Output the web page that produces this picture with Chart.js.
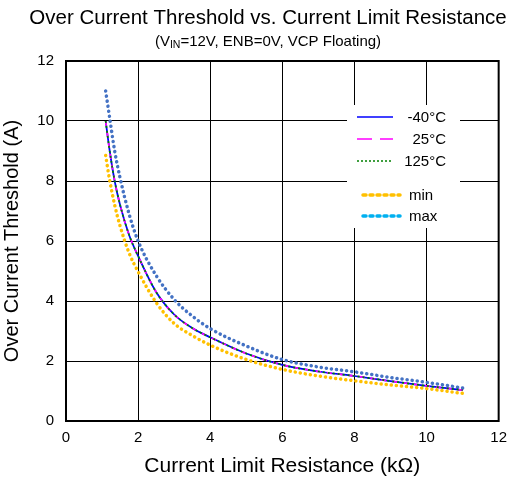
<!DOCTYPE html>
<html>
<head>
<meta charset="utf-8">
<script src="https://cdn.jsdelivr.net/npm/chart.js@4/dist/chart.umd.min.js"></script>
<style>
  html, body { margin: 0; padding: 0; background: #fff; }
  #wrap { width: 515px; height: 479px; }
</style>
</head>
<body>
<div id="wrap"><canvas id="c" width="515" height="479"></canvas></div>
<script>
// Current limit resistance (kΩ)
const resistance = [1.1, 1.2, 1.35, 1.5, 1.75, 2, 2.5, 3, 3.5, 4, 5, 6, 7, 8, 9, 10, 11];
// Over current threshold (A) per temperature
const tempM40 = [10.0, 9.1, 8.0, 7.2, 6.2, 5.5, 4.3, 3.55, 3.1, 2.79, 2.25, 1.87, 1.65, 1.5, 1.33, 1.17, 1.03];
const temp25  = [10.0, 9.1, 8.0, 7.2, 6.2, 5.5, 4.3, 3.55, 3.1, 2.79, 2.25, 1.87, 1.65, 1.5, 1.33, 1.17, 1.03];
const temp125 = [10.0, 9.1, 8.0, 7.2, 6.2, 5.5, 4.3, 3.55, 3.1, 2.79, 2.25, 1.87, 1.65, 1.5, 1.33, 1.17, 1.03];
// Limits
const minVals = [8.85, 8.1, 7.2, 6.5, 5.6, 4.98, 3.95, 3.25, 2.85, 2.53, 2.05, 1.72, 1.5, 1.34, 1.2, 1.08, 0.92];
const maxVals = [11.0, 10.2, 9.0, 8.1, 6.9, 6.0, 4.85, 4.05, 3.5, 3.08, 2.5, 2.05, 1.8, 1.64, 1.45, 1.29, 1.1];

const xTicks = [0, 2, 4, 6, 8, 10, 12];
const yTicks = [0, 2, 4, 6, 8, 10, 12];

const FONT = 'Liberation Sans, Arial, sans-serif';

const pts = ys => resistance.map((r, i) => ({ x: r, y: ys[i] }));

// Entries for the in-plot key
const legendItems = [
  { text: '-40°C', color: '#0000FF', width: 1.5, dash: [], cap: 'butt', align: 'right' },
  { text: '25°C', color: '#FF00FF', width: 1.5, dash: [15, 8], cap: 'butt', align: 'right' },
  { text: '125°C', color: '#008000', width: 1.5, dash: [2, 2], cap: 'butt', align: 'right' },
  null,
  { text: 'min', color: '#FFC000', width: 3.5, dash: [3, 4], cap: 'round', align: 'left' },
  { text: 'max', color: '#00B0F0', width: 3.5, dash: [3, 4], cap: 'round', align: 'left' }
];

const decorPlugin = {
  id: 'decor',
  beforeDraw(chart) {
    const ctx = chart.ctx;
    ctx.save();
    ctx.fillStyle = '#fff';
    ctx.fillRect(0, 0, chart.width, chart.height);
    ctx.restore();
  },
  afterDatasetsDraw(chart) {
    const ctx = chart.ctx;
    const a = chart.chartArea;
    ctx.save();
    // key box
    ctx.fillStyle = '#fff';
    ctx.fillRect(347, 105, 113, 123);
    const rows = [117, 139, 161, 182, 195, 216];
    legendItems.forEach((it, i) => {
      if (!it) return;
      const y = rows[i];
      ctx.beginPath();
      ctx.strokeStyle = it.color;
      ctx.lineWidth = it.width;
      ctx.lineCap = it.cap;
      ctx.setLineDash(it.dash);
      if (it.align === 'right') {
        ctx.moveTo(357, y); ctx.lineTo(393, y);
      } else {
        ctx.moveTo(363, y); ctx.lineTo(400, y);
      }
      ctx.stroke();
      ctx.setLineDash([]);
      ctx.fillStyle = '#000';
      ctx.font = '15px ' + FONT;
      ctx.textBaseline = 'middle';
      if (it.align === 'right') {
        ctx.textAlign = 'right';
        ctx.fillText(it.text, 446, y + 1);
      } else {
        ctx.textAlign = 'left';
        ctx.fillText(it.text, 409, y + 1);
      }
    });
    // plot frame
    ctx.strokeStyle = '#000';
    ctx.lineWidth = 2;
    ctx.lineCap = 'butt';
    ctx.strokeRect(a.left, a.top, a.right - a.left, a.bottom - a.top);
    // titles
    ctx.fillStyle = '#000';
    ctx.textAlign = 'center';
    ctx.textBaseline = 'middle';
    ctx.font = '20.5px ' + FONT;
    ctx.fillText('Over Current Threshold vs. Current Limit Resistance', 268, 18);
    // subtitle with subscript
    const big = '15px ' + FONT, small = '10.5px ' + FONT;
    const parts = [['(V', big, 0], ['IN', small, 3], ['=12V, ENB=0V, VCP Floating)', big, 0]];
    let total = 0;
    parts.forEach(p => { ctx.font = p[1]; total += ctx.measureText(p[0]).width; });
    let x = 268 - total / 2;
    ctx.textAlign = 'left';
    parts.forEach(p => {
      ctx.font = p[1];
      ctx.fillText(p[0], x, 42 + p[2]);
      x += ctx.measureText(p[0]).width;
    });
    ctx.restore();
  }
};

new Chart(document.getElementById('c'), {
  type: 'line',
  data: {
    datasets: [
      { label: 'min', data: pts(minVals), borderColor: '#FFC000', borderWidth: 3.5, borderDash: [0.1, 5], borderCapStyle: 'round', order: 4 },
      { label: 'max', data: pts(maxVals), borderColor: '#4472C4', borderWidth: 3.5, borderDash: [0.1, 5], borderCapStyle: 'round', order: 3 },
      { label: '-40°C', data: pts(tempM40), borderColor: '#0000FF', borderWidth: 1.75, order: 2 },
      { label: '25°C', data: pts(temp25), borderColor: '#FF00FF', borderWidth: 1.75, borderDash: [5, 6], order: 1 },
      { label: '125°C', data: pts(temp125), borderColor: '#008000', borderWidth: 1.75, borderDash: [2, 3], order: 0 }
    ]
  },
  options: {
    responsive: false,
    animation: false,
    elements: {
      point: { radius: 0 },
      line: { cubicInterpolationMode: 'monotone', fill: false }
    },
    layout: { padding: { left: 0, top: 61, right: 14, bottom: 0 } },
    plugins: {
      legend: { display: false },
      title: { display: false },
      tooltip: { enabled: false }
    },
    scales: {
      x: {
        type: 'linear',
        min: 0, max: 12,
        afterBuildTicks: s => { s.ticks = xTicks.map(v => ({ value: v })); },
        afterFit: s => { s.height = 58; },
        ticks: { color: '#000', font: { size: 15, family: FONT }, padding: 8, maxRotation: 0 },
        grid: { color: '#000', lineWidth: 1, drawTicks: false },
        border: { color: '#000', width: 2 },
        title: { display: true, text: 'Current Limit Resistance (kΩ)', color: '#000', font: { size: 21, family: FONT }, padding: { top: 2, bottom: 0 } }
      },
      y: {
        type: 'linear',
        min: 0, max: 12,
        afterBuildTicks: s => { s.ticks = yTicks.map(v => ({ value: v })); },
        afterFit: s => { s.width = 66; },
        ticks: { color: '#000', font: { size: 15, family: FONT }, padding: 12 },
        grid: { color: '#000', lineWidth: 1, drawTicks: false },
        border: { color: '#000', width: 2 },
        title: { display: true, text: 'Over Current Threshold (A)', color: '#000', font: { size: 20, family: FONT }, padding: { top: 0, bottom: 4 } }
      }
    }
  },
  plugins: [decorPlugin]
});
</script>
</body>
</html>
